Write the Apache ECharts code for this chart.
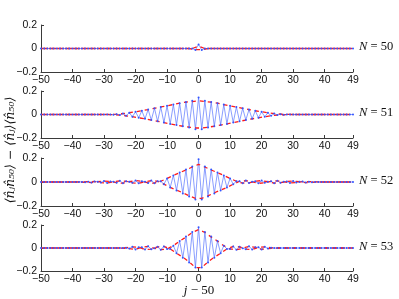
<!DOCTYPE html>
<html><head><meta charset="utf-8">
<script src="https://cdn.jsdelivr.net/npm/echarts@6/dist/echarts.min.js"></script>
<style>html,body{margin:0;padding:0;background:#fff}#c{width:399px;height:299px}</style>
</head><body><div id="c"></div>
<script>
// site offsets j-50
var jValues = [];
for (var k = -50; k <= 49; k++) jValues.push(k);
var panelLabels = ['50', '51', '52', '53'];
var xTicks = [-50, -40, -30, -20, -10, 0, 10, 20, 30, 40, 49];
var yTicks = [-0.2, 0, 0.2];

var blueN50 = [
0,0,0,0,0,0,0,0,0,0,
0,0,0,0,0,0,0,0,0,0,
0,0,0,0,0,0,0,0,0,0,
0,0,0,0,0,0,0,0,0,0,
0,0,0,0,0,0,0,0,0,-0.012,
0.035,-0.012,0,0,0,0,0,0,0,0,
0,0,0,0,0,0,0,0,0,0,
0,0,0,0,0,0,0,0,0,0,
0,0,0,0,0,0,0,0,0,0,
0,0,0,0,0,0,0,0,0,0];
var redN50 = [
0,0,0,0,0,0,0,0,0,0,
0,0,0,0,0,0,0,0,0,0,
0,0,0,0,0,0,0,0,0,0,
0,0,0,0,0,0,0,0,0,0,
0,0,0,0,0,0,0,0,0,-0.01,
0.02,-0.01,0,0,0,0,0,0,0,0,
0,0,0,0,0,0,0,0,0,0,
0,0,0,0,0,0,0,0,0,0,
0,0,0,0,0,0,0,0,0,0,
0,0,0,0,0,0,0,0,0,0];

var blueN51 = [
0,0,0,0,0,0,0,0,0,0,
0,0,0,0,0,0,0,0,0,0,
0,0,0.001,-0.002,0.003,-0.005,0.008,-0.011,0.015,-0.019,
0.023,-0.028,0.032,-0.037,0.042,-0.047,0.053,-0.058,0.064,-0.069,
0.074,-0.080,0.085,-0.090,0.096,-0.100,0.106,-0.110,0.116,-0.125,
0.145,-0.125,0.116,-0.110,0.106,-0.100,0.096,-0.090,0.085,-0.080,
0.074,-0.069,0.064,-0.058,0.053,-0.047,0.042,-0.037,0.032,-0.028,
0.023,-0.019,0.015,-0.011,0.008,-0.005,0.003,-0.002,0.001,0,
0,0,0,0,0,0,0,0,0,0,
0,0,0,0,0,0,0,0,0,0];
var redN51 = [
0,0,0,0,0,0,0,0,0,0,
0,0,0,0,0,0,0,0,0,0,
0,0,0.001,-0.002,0.003,-0.005,0.008,-0.011,0.015,-0.019,
0.023,-0.028,0.032,-0.037,0.042,-0.047,0.053,-0.058,0.064,-0.069,
0.074,-0.080,0.085,-0.090,0.096,-0.100,0.106,-0.108,0.110,-0.115,
0.117,-0.115,0.110,-0.108,0.106,-0.100,0.096,-0.090,0.085,-0.080,
0.074,-0.069,0.064,-0.058,0.053,-0.047,0.042,-0.037,0.032,-0.028,
0.023,-0.019,0.015,-0.011,0.008,-0.005,0.003,-0.002,0.001,0,
0,0,0,0,0,0,0,0,0,0,
0,0,0,0,0,0,0,0,0,0];

var blueN52 = [
0,0,0,0,0,0,0,0,0,0,
0,0,0,0.001,-0.002,0.003,-0.005,0.004,0.002,-0.005,
0.008,-0.008,0.005,0.002,-0.006,0.010,-0.010,0.006,0.002,-0.007,
0.012,-0.011,0.006,0.002,-0.008,0.012,-0.010,0.006,0.006,-0.018,
0.030,-0.045,0.055,-0.070,0.080,-0.095,0.105,-0.120,0.130,-0.145,
0.190,-0.145,0.130,-0.120,0.105,-0.095,0.080,-0.070,0.055,-0.045,
0.030,-0.018,0.006,0.006,-0.010,0.012,-0.008,0.002,0.006,-0.011,
0.012,-0.007,0.002,0.006,-0.010,0.010,-0.006,0.002,0.005,-0.008,
0.008,-0.005,0.002,0.004,-0.005,0.003,-0.002,0.001,0,0,
0,0,0,0,0,0,0,0,0,0];
var redN52 = [
0,0,0,0,0,0,0,0,0,0,
0,0,0,0.001,-0.002,0.003,-0.005,0.004,0.002,-0.005,
0.008,-0.008,0.005,0.002,-0.006,0.010,-0.010,0.006,0.002,-0.007,
0.012,-0.011,0.006,0.002,-0.008,0.012,-0.010,0.006,0.006,-0.018,
0.030,-0.045,0.055,-0.068,0.078,-0.090,0.100,-0.115,0.125,-0.136,
0.147,-0.136,0.125,-0.115,0.100,-0.090,0.078,-0.068,0.055,-0.045,
0.030,-0.018,0.006,0.006,-0.010,0.012,-0.008,0.002,0.006,-0.011,
0.012,-0.007,0.002,0.006,-0.010,0.010,-0.006,0.002,0.005,-0.008,
0.008,-0.005,0.002,0.004,-0.005,0.003,-0.002,0.001,0,0,
0,0,0,0,0,0,0,0,0,0];

var blueN53 = [
0,0,0,0,0,0,0,0,0,0,
0,0,0,0,0,0,0,0,0,0,
0,0,0,0,0,0,-0.001,0.002,-0.005,0.010,
-0.012,0.006,0.006,-0.013,0.015,-0.010,-0.003,0.010,-0.015,0.014,
-0.008,-0.008,0.020,-0.045,0.060,-0.085,0.100,-0.125,0.140,-0.170,
0.180,-0.170,0.140,-0.125,0.100,-0.085,0.060,-0.045,0.020,-0.008,
-0.008,0.014,-0.015,0.010,-0.003,-0.010,0.015,-0.013,0.006,0.006,
-0.012,0.010,-0.005,0.002,-0.001,0,0,0,0,0,
0,0,0,0,0,0,0,0,0,0,
0,0,0,0,0,0,0,0,0,0];
var redN53 = [
0,0,0,0,0,0,0,0,0,0,
0,0,0,0,0,0,0,0,0,0,
0,0,0,0,0,0,-0.001,0.002,-0.005,0.010,
-0.012,0.006,0.006,-0.013,0.015,-0.010,-0.003,0.010,-0.015,0.014,
-0.008,-0.008,0.020,-0.045,0.060,-0.080,0.095,-0.120,0.135,-0.170,
0.160,-0.170,0.135,-0.120,0.095,-0.080,0.060,-0.045,0.020,-0.008,
-0.008,0.014,-0.015,0.010,-0.003,-0.010,0.015,-0.013,0.006,0.006,
-0.012,0.010,-0.005,0.002,-0.001,0,0,0,0,0,
0,0,0,0,0,0,0,0,0,0,
0,0,0,0,0,0,0,0,0,0];

var blueSets = [blueN50, blueN51, blueN52, blueN53];
var redSets = [redN50, redN51, redN52, redN53];

var tops = [25, 91, 158, 225];
var heights = [47, 47, 48, 46];
var LEFT = 41, RIGHT_EDGE = 353;

function fmtNum(v) {
  if (Math.abs(v) < 1e-9) return '0';
  var s = (Math.abs(v) < 1) ? Math.abs(v).toFixed(1) : String(Math.abs(v));
  return (v < 0 ? '\u2212' : '') + s;
}

var grids = [], xAxes = [], yAxes = [], series = [], graphics = [];
var axisColor = '#3a3a3a';
for (var p = 0; p < 4; p++) {
  grids.push({left: LEFT, width: RIGHT_EDGE - LEFT, top: tops[p], height: heights[p], containLabel: false});
  xAxes.push({
    type: 'value', gridIndex: p, min: xTicks[0], max: xTicks[xTicks.length - 1], interval: 10,
    axisLine: {show: true, onZero: false, lineStyle: {color: axisColor, width: 1}},
    axisTick: {show: true, inside: true, length: 3, lineStyle: {color: axisColor}},
    axisLabel: {formatter: fmtNum, fontSize: 10.5, color: '#111', margin: 3, fontFamily: 'Liberation Sans'},
    splitLine: {show: false}
  });
  yAxes.push({
    type: 'value', gridIndex: p, min: yTicks[0], max: yTicks[2], interval: 0.2,
    axisLine: {show: true, onZero: false, lineStyle: {color: axisColor, width: 1}},
    axisTick: {show: true, inside: true, length: 3, lineStyle: {color: axisColor}},
    axisLabel: {formatter: fmtNum, fontSize: 10.5, color: '#111', margin: 4, fontFamily: 'Liberation Sans'},
    splitLine: {show: false}
  });
  var b = blueSets[p], r = redSets[p];
  var bData = [], rEven = [], rOdd = [];
  for (var i = 0; i < jValues.length; i++) {
    bData.push([jValues[i], b[i]]);
    if (jValues[i] % 2 === 0) rEven.push([jValues[i], r[i]]); else rOdd.push([jValues[i], r[i]]);
  }
  series.push({
    type: 'line', xAxisIndex: p, yAxisIndex: p, data: bData, silent: true, animation: false,
    lineStyle: {color: 'rgba(80,110,255,0.75)', width: 0.9},
    symbol: 'circle', symbolSize: 2, showSymbol: true, itemStyle: {color: '#3355ff'}
  });
  [rEven, rOdd].forEach(function (d) {
    series.push({
      type: 'line', xAxisIndex: p, yAxisIndex: p, data: d, silent: true, animation: false,
      lineStyle: {color: '#ff1a1a', width: 1.3, type: [4, 4]},
      symbol: 'none', showSymbol: false
    });
  });
  graphics.push({
    type: 'text', left: 359, top: tops[p] + heights[p] / 2 - 8,
    style: {
      text: '{i|N} = ' + panelLabels[p],
      rich: {i: {fontStyle: 'italic', fontFamily: 'Liberation Serif', fontSize: 12.5, fill: '#111'}},
      fontFamily: 'Liberation Serif', fontSize: 12.5, fill: '#111'
    }
  });
}

graphics.push({
  type: 'text', x: 11, y: 150, rotation: Math.PI / 2,
  style: {
    text: '\u27E8n\u0302\u2C7Cn\u0302\u2085\u2080\u27E9 \u2212 \u27E8n\u0302\u2C7C\u27E9\u27E8n\u0302\u2085\u2080\u27E9',
    fontFamily: 'DejaVu Serif', fontStyle: 'italic', fontSize: 12.5, fill: '#111',
    align: 'center', verticalAlign: 'middle'
  }
});
graphics.push({
  type: 'text', x: 199, y: 291,
  style: {
    text: '{i|j} \u2212 50', rich: {i: {fontStyle: 'italic', fontFamily: 'Liberation Serif', fontSize: 13, fill: '#111'}},
    fontFamily: 'Liberation Serif', fontSize: 13, fill: '#111', align: 'center', verticalAlign: 'middle'
  }
});

var chart = echarts.init(document.getElementById('c'), null, {renderer: 'canvas'});
chart.setOption({
  animation: false, backgroundColor: '#fff',
  grid: grids, xAxis: xAxes, yAxis: yAxes, series: series, graphic: graphics
});
</script></body></html>
